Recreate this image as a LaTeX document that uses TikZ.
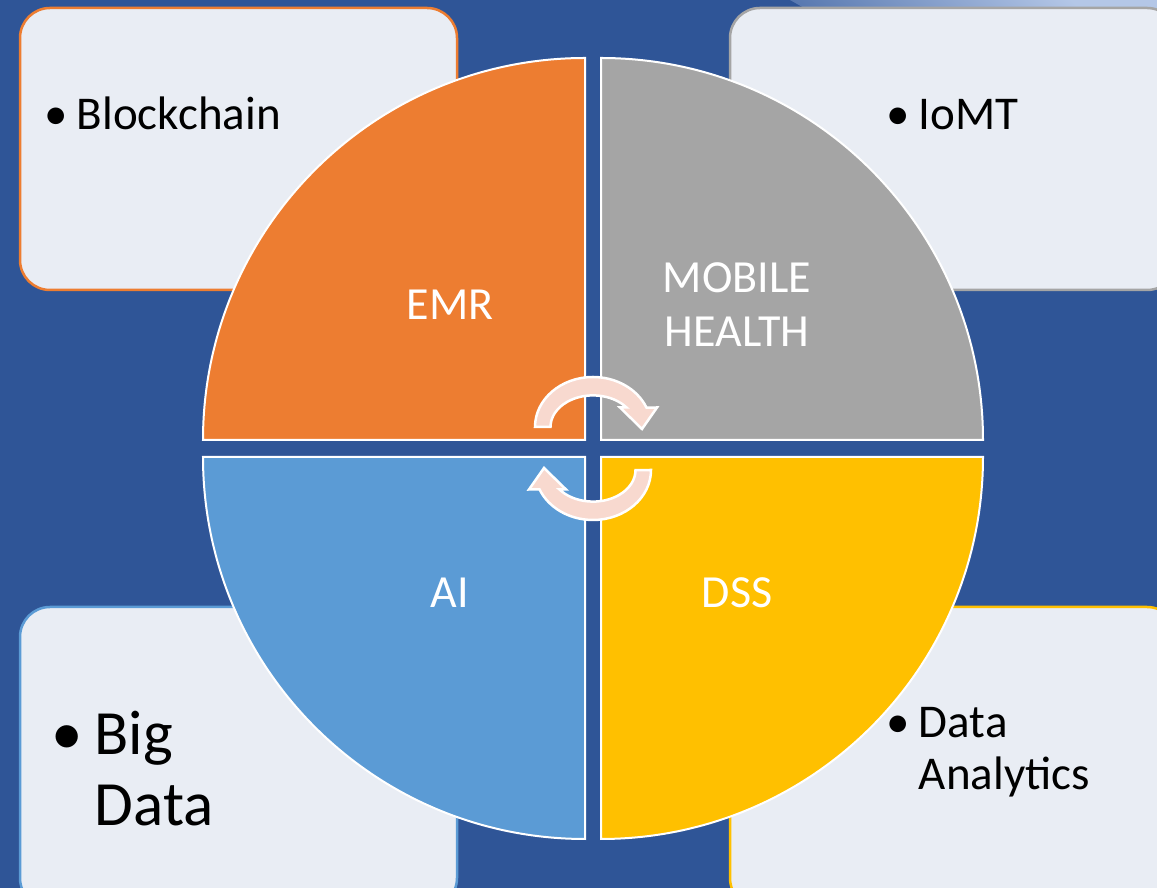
\documentclass[tikz,border=0pt]{standalone}
\usepackage{fontspec}
\setmainfont{Carlito}
\usepackage{xcolor}
\usepackage{tikz}
\usetikzlibrary{positioning}

\definecolor{bgblue}{HTML}{2F5597}
\definecolor{bglight}{HTML}{B4C7E7}
\definecolor{boxfill}{HTML}{E9EDF4}
\definecolor{emrorange}{HTML}{ED7D31}
\definecolor{mobgray}{HTML}{A5A5A5}
\definecolor{aiblue}{HTML}{5B9BD5}
\definecolor{dssgold}{HTML}{FFC000}
\definecolor{cycpink}{HTML}{F8D9CF}

\newcommand{\bulitem}[1]{\begin{tabular}[t]{@{}l@{}l@{}}\makebox[0.68em][l]{\textbullet}&#1\end{tabular}}

\begin{document}
\begin{tikzpicture}[x=1pt, y=1pt,
		box/.style={draw, line width=2.5pt, fill=boxfill, rounded corners=30pt, minimum width=437pt, minimum height=282pt},
		quarter/.style={draw=white, line width=2pt},
		lbl/.style={text=white, align=center, inner sep=0pt, font=\fontsize{46}{54}\selectfont},
		item/.style={anchor=base west, inner sep=0pt, font=\fontsize{47}{52}\selectfont},
		cycarrow/.style={fill=cycpink, draw=white, line width=2.5pt, line join=miter},
	]
	\useasboundingbox (0,0) rectangle (1157,888);
	\clip (0,0) rectangle (1157,888);
	\fill[bgblue] (0,0) rectangle (1157,888);
	\shade[top color=bglight, bottom color=bgblue, shading angle=-45] (790,888) -- (1157,888) -- (1157,680) -- cycle;

	% side boxes
	\node[box, draw=emrorange] (chainbox) at (238.5,739) {};
	\node[box, draw=mobgray, minimum width=447pt] (iomtbox) at (953.5,739) {};
	\node[box, draw=aiblue, minimum height=301pt] (bigbox) at (238.5,130.5) {};
	\node[box, draw=dssgold, minimum width=447pt, minimum height=301pt] (anabox) at (953.5,130.5) {};

	\node[item] (chain) at ([xshift=26pt, yshift=-123pt]chainbox.north west) {\bulitem{Blockchain}};
	\node[item] (iomt) at ([xshift=158pt, yshift=-123pt]iomtbox.north west) {\bulitem{IoMT}};
	\node[item, font=\fontsize{63}{71}\selectfont] (bigdata) at ([xshift=33pt, yshift=-149pt]bigbox.north west) {\bulitem{Big\\&Data}};
	\node[item] (analytics) at ([xshift=158pt, yshift=-132pt]anabox.north west) {\bulitem{Data\\&Analytics}};

	% quarter circle
	\foreach \col/\cx/\cy/\a in {emrorange/585/448/90, mobgray/601/448/0, aiblue/585/431/180, dssgold/601/431/270}
		\filldraw[quarter, fill=\col] (\cx,\cy) -- +(\a:382pt) arc[start angle=\a, delta angle=90, radius=382pt] -- cycle;

	\node[lbl] (emr) at (450,583) {EMR};
	\node[lbl] (mobile) at (737,583) {MOBILE\\HEALTH};
	\node[lbl] (ai) at (450,295) {AI};
	\node[lbl] (dss) at (737,295) {DSS};

	% cycle arrows
	\foreach \a in {0,180}
		\filldraw[cycarrow, shift={(593,439.5)}, rotate=\a] (-58,21.5) arc[start angle=180, end angle=22.8, x radius=58pt, y radius=50pt] -- (64,41) -- (49,19.5) -- (27,41) -- (33.5,41) arc[start angle=38, end angle=180, x radius=42.5pt, y radius=31.5pt] -- cycle;
\end{tikzpicture}
\end{document}
